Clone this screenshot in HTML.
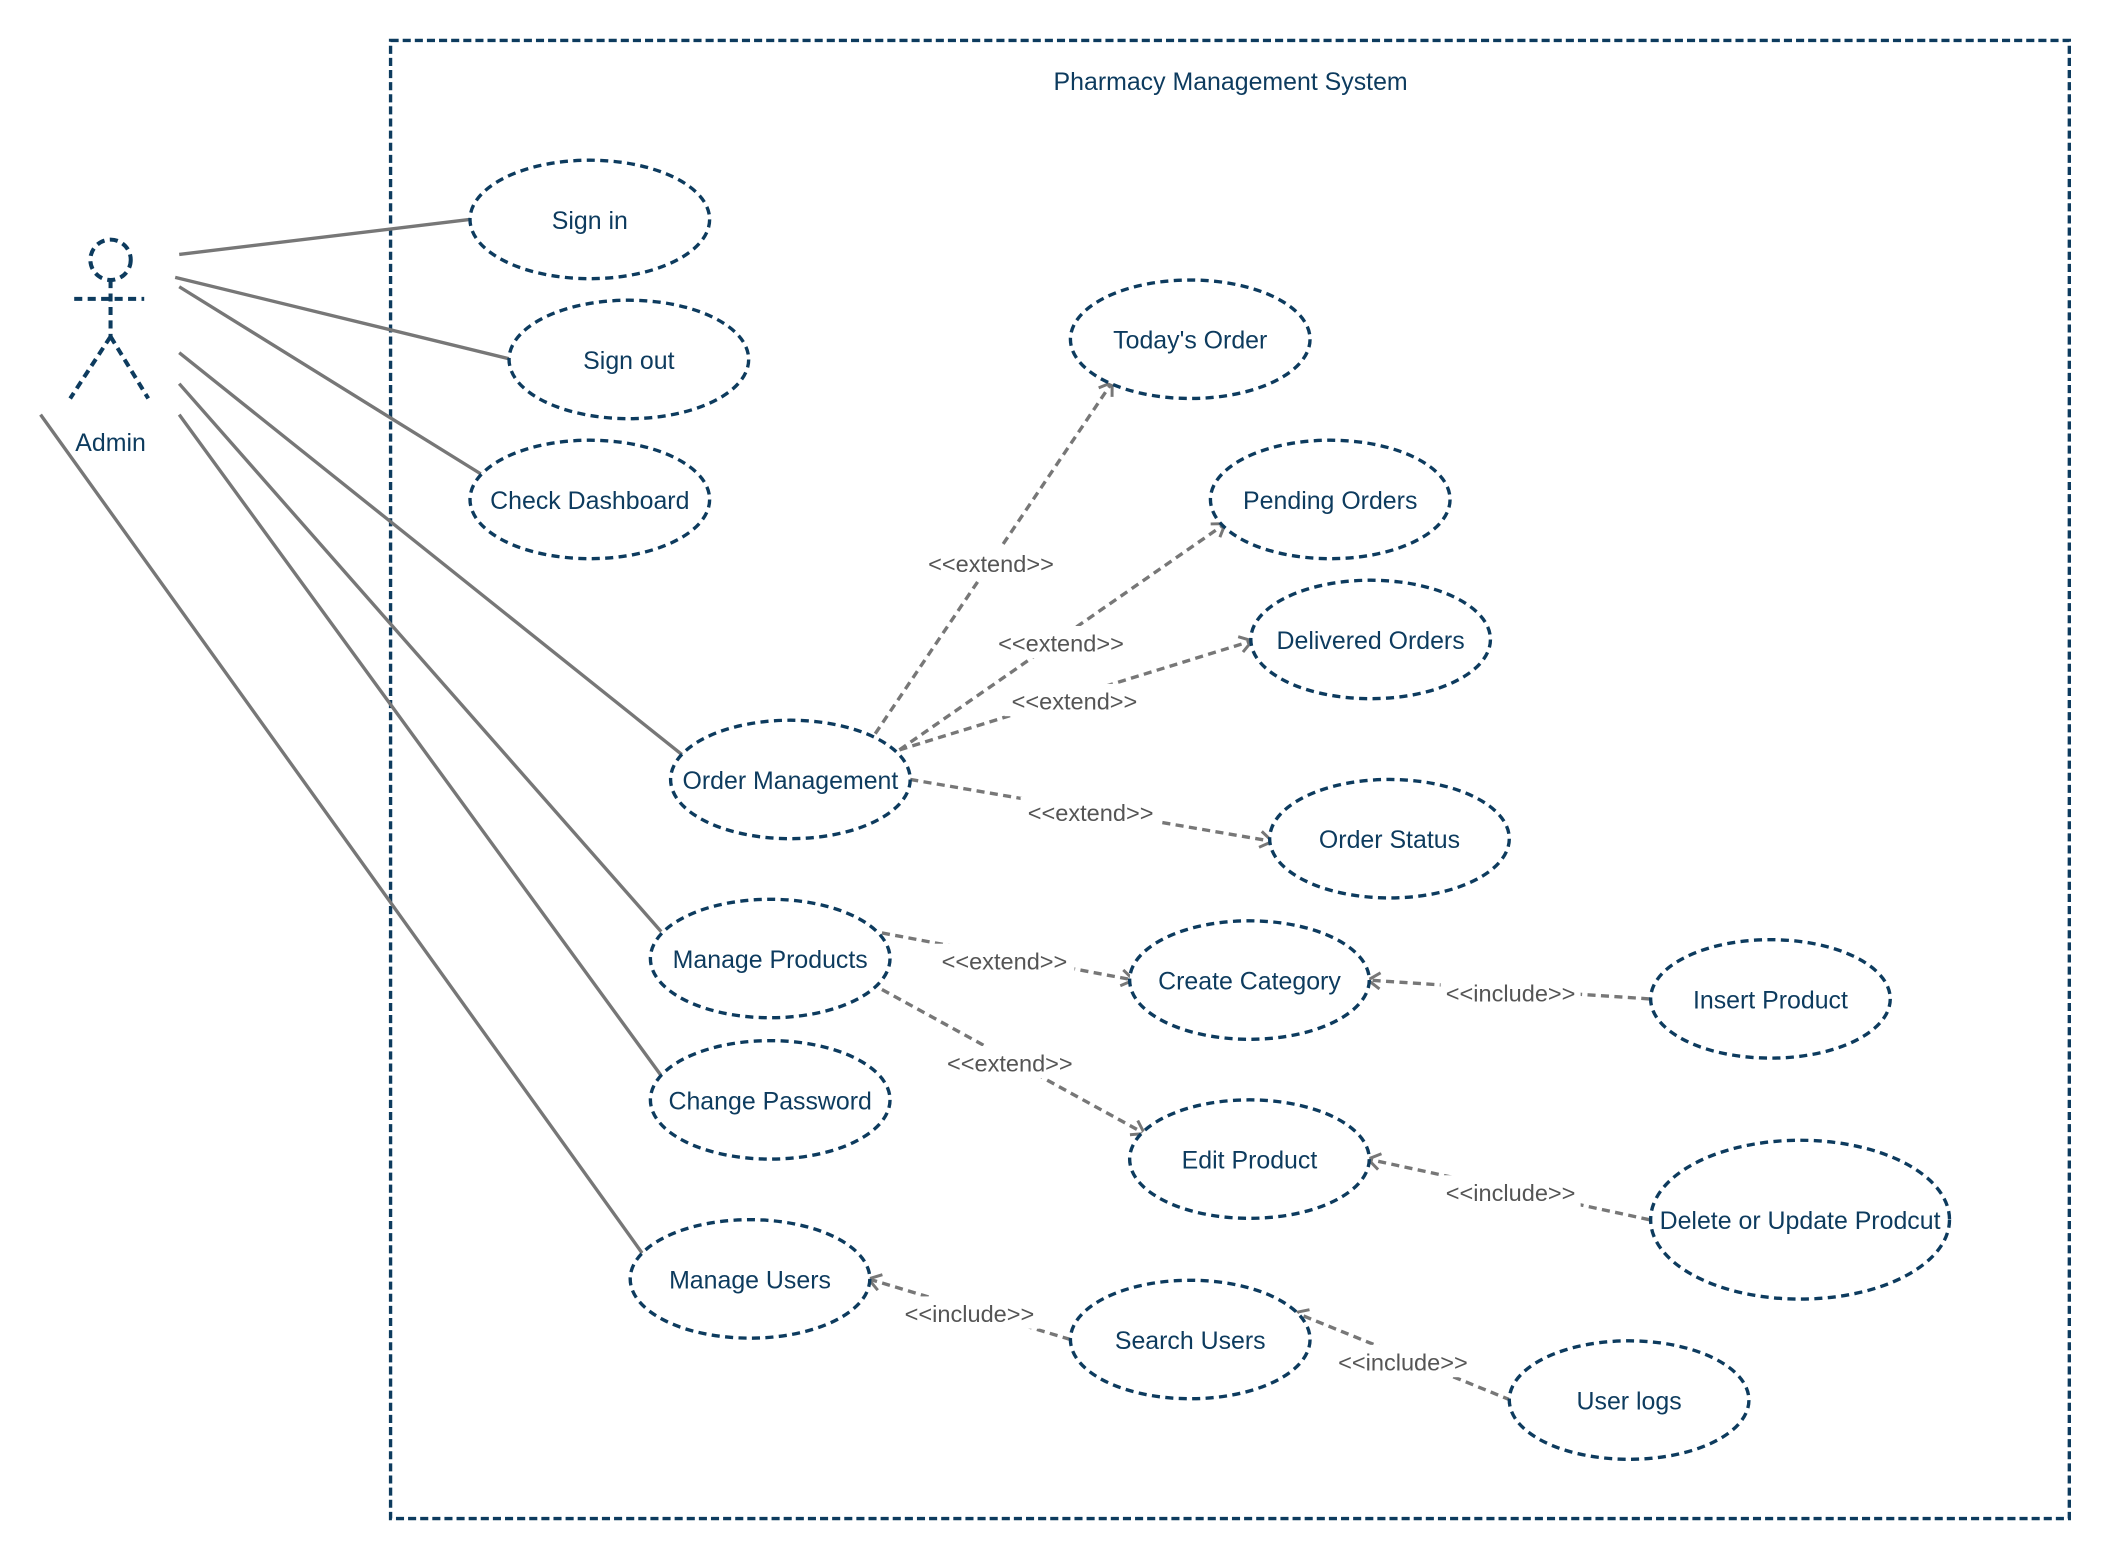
<!DOCTYPE html>
<html><head><meta charset="utf-8"><style>
html,body{margin:0;padding:0;background:#fff}
svg{display:block}
text{font-family:"Liberation Sans",sans-serif}
</style></head><body>
<svg width="2111" height="1560" viewBox="0 0 1560 1153" xmlns="http://www.w3.org/2000/svg">
<defs>
<marker id="a" markerWidth="14" markerHeight="14" refX="11" refY="7" orient="auto" markerUnits="userSpaceOnUse">
<path d="M2,1 L11,7 L2,13" fill="none" stroke="#777" stroke-width="2.2"/>
</marker>
</defs>
<g transform="scale(0.995)">
<rect x="290" y="30" width="1247" height="1098" fill="none" stroke="#0d3b5e" stroke-width="2.5" stroke-dasharray="6 3"/>
<text x="914" y="67" font-size="18.5" fill="#0d3b5e" text-anchor="middle">Pharmacy Management System</text>

<g stroke="#0d3b5e" stroke-width="3" stroke-dasharray="6 4" fill="none">
<circle cx="82" cy="193" r="15"/>
<line x1="82" y1="208" x2="82" y2="250"/>
<line x1="55" y1="222" x2="107" y2="222"/>
<line x1="82" y1="250" x2="52" y2="296"/>
<line x1="82" y1="250" x2="110" y2="296"/>
</g>
<text x="82" y="335" font-size="18.5" fill="#0d3b5e" text-anchor="middle">Admin</text>

<g stroke="#777" stroke-width="2.5">
<line x1="133" y1="189" x2="349" y2="163"/>
<line x1="130" y1="206" x2="380" y2="267"/>
<line x1="133" y1="213" x2="357" y2="352"/>
<line x1="133" y1="262" x2="507" y2="561"/>
<line x1="133" y1="285" x2="491" y2="692"/>
<line x1="133" y1="308" x2="491" y2="799"/>
<line x1="30" y1="308" x2="477" y2="931"/>
</g>

<g stroke="#777" stroke-width="2.5" stroke-dasharray="6 4" fill="none" marker-end="url(#a)">
<line x1="650" y1="545" x2="826" y2="284"/>
<line x1="668" y1="557" x2="910" y2="389"/>
<line x1="668" y1="557" x2="930" y2="476"/>
<line x1="676" y1="579" x2="945" y2="625"/>
<line x1="655" y1="693" x2="842" y2="728"/>
<line x1="655" y1="735" x2="850" y2="842"/>
<line x1="1225" y1="742" x2="1016" y2="728"/>
<line x1="1225" y1="906" x2="1016" y2="861"/>
<line x1="795" y1="995" x2="645" y2="950"/>
<line x1="1122" y1="1040" x2="962" y2="975"/>
</g>

<g font-size="17.5" fill="#555" text-anchor="middle">
<rect x="684" y="406" width="104" height="24" fill="#fff"/><text x="736" y="425">&lt;&lt;extend&gt;&gt;</text>
<rect x="736" y="465" width="104" height="24" fill="#fff"/><text x="788" y="484">&lt;&lt;extend&gt;&gt;</text>
<rect x="746" y="508" width="104" height="24" fill="#fff"/><text x="798" y="527">&lt;&lt;extend&gt;&gt;</text>
<rect x="758" y="592" width="104" height="24" fill="#fff"/><text x="810" y="610">&lt;&lt;extend&gt;&gt;</text>
<rect x="694" y="701" width="104" height="24" fill="#fff"/><text x="746" y="720">&lt;&lt;extend&gt;&gt;</text>
<rect x="698" y="777" width="104" height="24" fill="#fff"/><text x="750" y="796">&lt;&lt;extend&gt;&gt;</text>
<rect x="1070" y="725" width="104" height="24" fill="#fff"/><text x="1122" y="744">&lt;&lt;include&gt;&gt;</text>
<rect x="1070" y="873" width="104" height="24" fill="#fff"/><text x="1122" y="892">&lt;&lt;include&gt;&gt;</text>
<rect x="668" y="963" width="104" height="24" fill="#fff"/><text x="720" y="982">&lt;&lt;include&gt;&gt;</text>
<rect x="990" y="999" width="104" height="24" fill="#fff"/><text x="1042" y="1018">&lt;&lt;include&gt;&gt;</text>
</g>

<g stroke="#0d3b5e" stroke-width="2.5" stroke-dasharray="6 4" fill="#fff">
<ellipse cx="438" cy="163" rx="89" ry="44"/>
<ellipse cx="467" cy="267" rx="89" ry="44"/>
<ellipse cx="438" cy="371" rx="89" ry="44"/>
<ellipse cx="884" cy="252" rx="89" ry="44"/>
<ellipse cx="988" cy="371" rx="89" ry="44"/>
<ellipse cx="1018" cy="475" rx="89" ry="44"/>
<ellipse cx="587" cy="579" rx="89" ry="44"/>
<ellipse cx="1032" cy="623" rx="89" ry="44"/>
<ellipse cx="572" cy="712" rx="89" ry="44"/>
<ellipse cx="928" cy="728" rx="89" ry="44"/>
<ellipse cx="1315" cy="742" rx="89" ry="44"/>
<ellipse cx="572" cy="817" rx="89" ry="44"/>
<ellipse cx="928" cy="861" rx="89" ry="44"/>
<ellipse cx="1337" cy="906" rx="111" ry="59"/>
<ellipse cx="557" cy="950" rx="89" ry="44"/>
<ellipse cx="884" cy="995" rx="89" ry="44"/>
<ellipse cx="1210" cy="1040" rx="89" ry="44"/>
</g>

<g font-size="18.5" fill="#0d3b5e" text-anchor="middle">
<text x="438" y="170">Sign in</text>
<text x="467" y="274">Sign out</text>
<text x="438" y="378">Check Dashboard</text>
<text x="884" y="259">Today's Order</text>
<text x="988" y="378">Pending Orders</text>
<text x="1018" y="482">Delivered Orders</text>
<text x="587" y="586">Order Management</text>
<text x="1032" y="630">Order Status</text>
<text x="572" y="719">Manage Products</text>
<text x="928" y="735">Create Category</text>
<text x="1315" y="749">Insert Product</text>
<text x="572" y="824">Change Password</text>
<text x="928" y="868">Edit Product</text>
<text x="1337" y="913">Delete or Update Prodcut</text>
<text x="557" y="957">Manage Users</text>
<text x="884" y="1002">Search Users</text>
<text x="1210" y="1047">User logs</text>
</g>
</g>
</svg>
</body></html>
